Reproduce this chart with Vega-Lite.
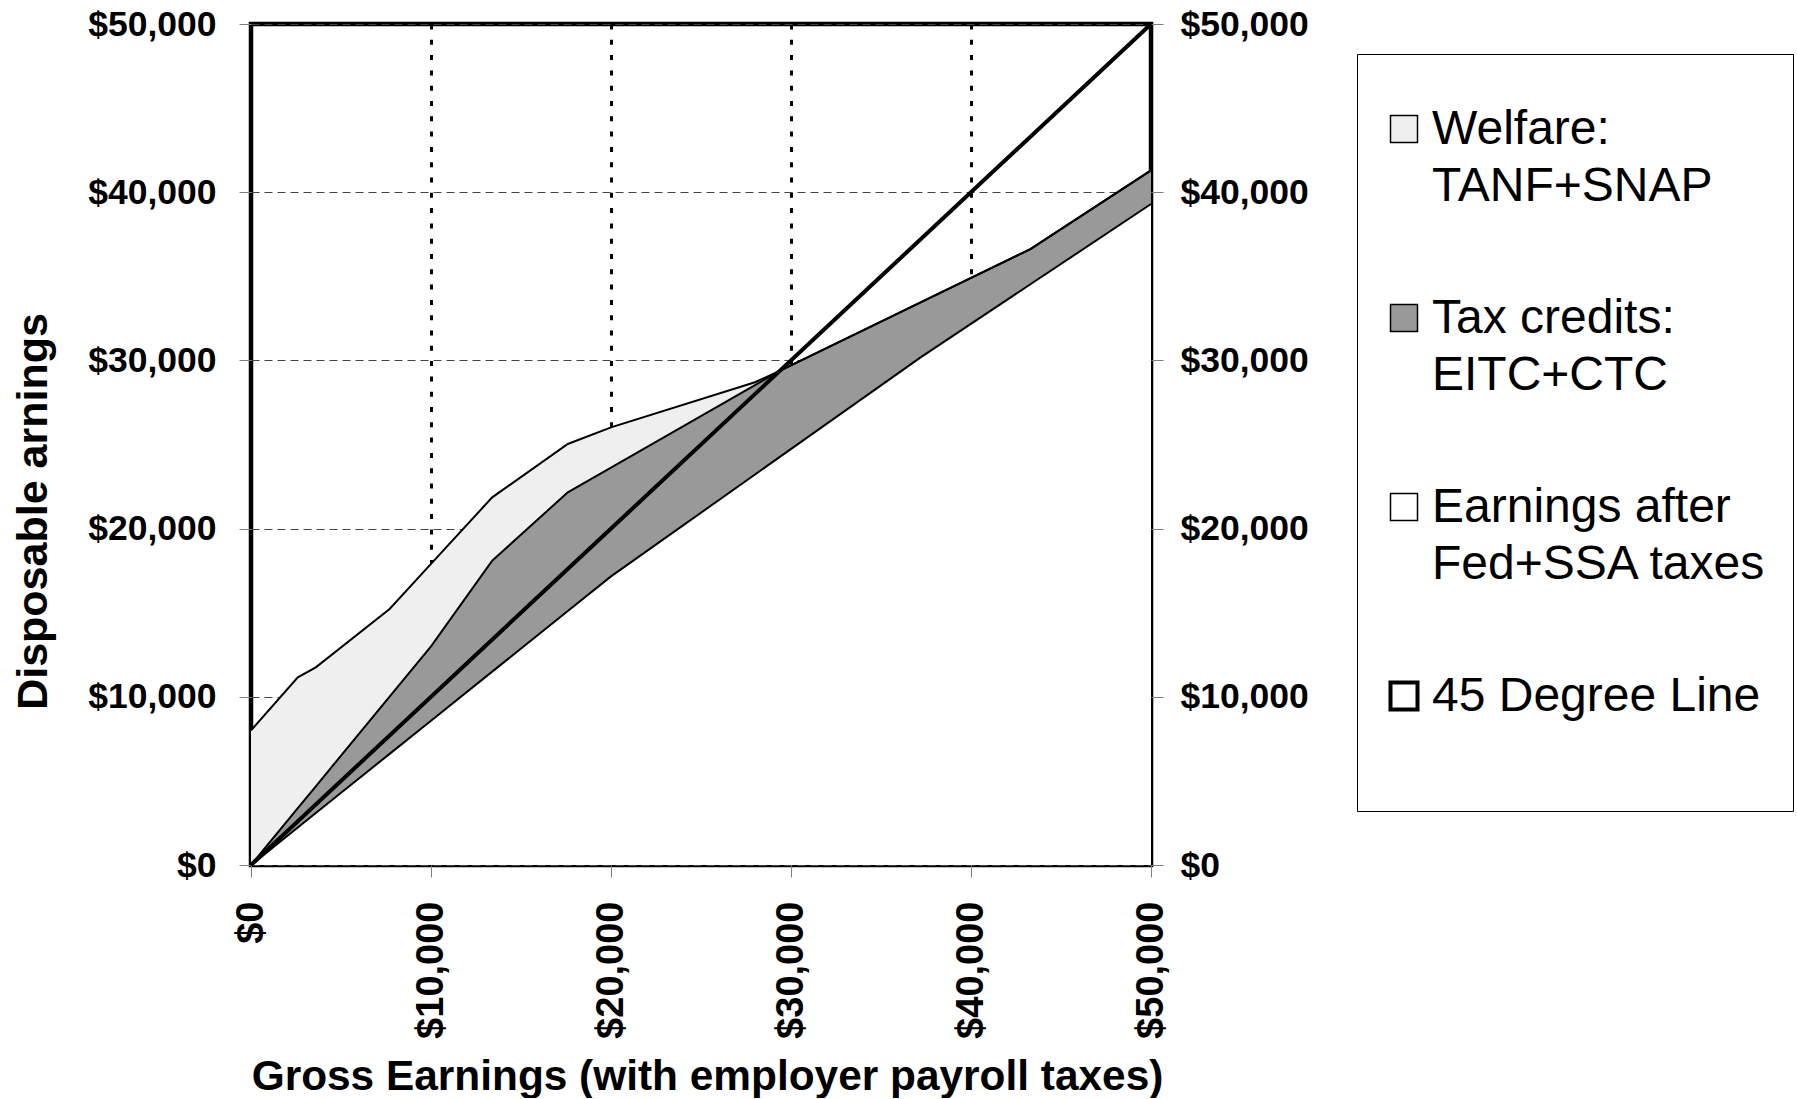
{
  "$schema": "https://vega.github.io/schema/vega-lite/v6.json",
  "width": 900,
  "height": 841,
  "padding": {"left": 12, "top": 7, "right": 5, "bottom": 0},
  "background": "white",
  "config": {
    "font": "Liberation Sans",
    "view": {"stroke": "black", "strokeWidth": 4.5},
    "axis": {
      "labelFont": "Liberation Sans",
      "labelFontWeight": "bold",
      "labelFontSize": 35.5,
      "labelColor": "black",
      "titleFont": "Liberation Sans",
      "titleFontWeight": "bold",
      "titleFontSize": 42.4,
      "titleColor": "black",
      "tickColor": "#808080",
      "tickSize": 12,
      "domain": false
    }
  },
  "datasets": {
    "bands": [
      {"gross": 0, "series": "Earnings after Fed+SSA taxes", "amount": 0},
      {"gross": 0, "series": "Tax credits: EITC+CTC", "amount": 0},
      {"gross": 0, "series": "Welfare: TANF+SNAP", "amount": 8000},
      {"gross": 2600, "series": "Earnings after Fed+SSA taxes", "amount": 2231},
      {"gross": 2600, "series": "Tax credits: EITC+CTC", "amount": 1149},
      {"gross": 2600, "series": "Welfare: TANF+SNAP", "amount": 7780},
      {"gross": 3600, "series": "Earnings after Fed+SSA taxes", "amount": 3089},
      {"gross": 3600, "series": "Tax credits: EITC+CTC", "amount": 1591},
      {"gross": 3600, "series": "Welfare: TANF+SNAP", "amount": 7070},
      {"gross": 7700, "series": "Earnings after Fed+SSA taxes", "amount": 6607},
      {"gross": 7700, "series": "Tax credits: EITC+CTC", "amount": 3403},
      {"gross": 7700, "series": "Welfare: TANF+SNAP", "amount": 5210},
      {"gross": 10000, "series": "Earnings after Fed+SSA taxes", "amount": 8580},
      {"gross": 10000, "series": "Tax credits: EITC+CTC", "amount": 4420},
      {"gross": 10000, "series": "Welfare: TANF+SNAP", "amount": 4900},
      {"gross": 13400, "series": "Earnings after Fed+SSA taxes", "amount": 11497},
      {"gross": 13400, "series": "Tax credits: EITC+CTC", "amount": 6593},
      {"gross": 13400, "series": "Welfare: TANF+SNAP", "amount": 3770},
      {"gross": 17600, "series": "Earnings after Fed+SSA taxes", "amount": 15101},
      {"gross": 17600, "series": "Tax credits: EITC+CTC", "amount": 7059},
      {"gross": 17600, "series": "Welfare: TANF+SNAP", "amount": 2870},
      {"gross": 20000, "series": "Earnings after Fed+SSA taxes", "amount": 17160},
      {"gross": 20000, "series": "Tax credits: EITC+CTC", "amount": 6470},
      {"gross": 20000, "series": "Welfare: TANF+SNAP", "amount": 2390},
      {"gross": 28000, "series": "Earnings after Fed+SSA taxes", "amount": 23216},
      {"gross": 28000, "series": "Tax credits: EITC+CTC", "amount": 5316},
      {"gross": 28000, "series": "Welfare: TANF+SNAP", "amount": 168},
      {"gross": 29400, "series": "Earnings after Fed+SSA taxes", "amount": 24276},
      {"gross": 29400, "series": "Tax credits: EITC+CTC", "amount": 5114},
      {"gross": 29400, "series": "Welfare: TANF+SNAP", "amount": 0},
      {"gross": 37200, "series": "Earnings after Fed+SSA taxes", "amount": 30180},
      {"gross": 37200, "series": "Tax credits: EITC+CTC", "amount": 3266},
      {"gross": 37200, "series": "Welfare: TANF+SNAP", "amount": 0},
      {"gross": 43300, "series": "Earnings after Fed+SSA taxes", "amount": 34526},
      {"gross": 43300, "series": "Tax credits: EITC+CTC", "amount": 2094},
      {"gross": 43300, "series": "Welfare: TANF+SNAP", "amount": 0},
      {"gross": 50000, "series": "Earnings after Fed+SSA taxes", "amount": 39300},
      {"gross": 50000, "series": "Tax credits: EITC+CTC", "amount": 2000},
      {"gross": 50000, "series": "Welfare: TANF+SNAP", "amount": 0}
    ],
    "line45": [
      {"gross": 0, "disposable": 0},
      {"gross": 50000, "disposable": 50000}
    ]
  },
  "layer": [
    {
      "data": {"name": "bands"},
      "mark": {"type": "area", "opacity": 1, "fillOpacity": 1, "stroke": null},
      "encoding": {
        "x": {
          "field": "gross",
          "type": "quantitative",
          "scale": {"domain": [0, 50000], "nice": false},
          "axis": {
            "title": "Gross Earnings (with employer payroll taxes)",
            "values": [0, 10000, 20000, 30000, 40000, 50000],
            "format": "$,.0f",
            "labelAngle": -90,
            "labelFontSize": 38,
            "labelPadding": 24,
            "titlePadding": 18,
            "titleX": 456,
            "grid": true,
            "gridColor": "black",
            "gridWidth": 3,
            "gridDash": [5, 10.3]
          }
        },
        "y": {
          "field": "amount",
          "type": "quantitative",
          "stack": "zero",
          "scale": {"domain": [0, 50000], "nice": false},
          "axis": {
            "orient": "left",
            "title": "Disposable arnings",
            "titleFontSize": 43,
            "titleY": 487,
            "values": [0, 10000, 20000, 30000, 40000, 50000],
            "format": "$,.0f",
            "labelPadding": 23,
            "titlePadding": 32,
            "grid": true,
            "gridColor": "#444444",
            "gridWidth": 1,
            "gridDash": [8, 5]
          }
        },
        "fill": {
          "field": "series",
          "type": "nominal",
          "scale": {
            "domain": ["Welfare: TANF+SNAP", "Tax credits: EITC+CTC", "Earnings after Fed+SSA taxes", "45 Degree Line"],
            "range": ["#efefef", "#999999", "#ffffff", "#ffffff"]
          },
          "legend": {
            "title": " ",
            "titleFontSize": 6,
            "titlePadding": 19,
            "orient": "none",
            "legendX": 1106,
            "legendY": 30,
            "strokeColor": "black",
            "fillColor": "white",
            "padding": 26,
            "symbolType": "square",
            "symbolSize": 729,
            "symbolStrokeColor": "black",
            "symbolStrokeWidth": 1.5,
            "symbolOpacity": 1,
            "symbolOffset": -3,
            "labelFont": "Liberation Sans",
            "labelFontSize": 48,
            "labelColor": "black",
            "labelLimit": 0,
            "labelOffset": 4,
            "labelBaseline": "alphabetic",
            "rowPadding": 83,
            "labelExpr": "datum.label == 'Welfare: TANF+SNAP' ? ['Welfare:', 'TANF+SNAP'] : datum.label == 'Tax credits: EITC+CTC' ? ['Tax credits:', 'EITC+CTC'] : datum.label == 'Earnings after Fed+SSA taxes' ? ['Earnings after', 'Fed+SSA taxes'] : ['45 Degree Line', ' ']",
            "encode": {
              "labels": {"update": {"dy": {"value": 15}, "lineHeight": {"signal": "datum.index === 3 ? 64 : 56.5"}}},
              "symbols": {"update": {"strokeWidth": {"signal": "datum.value === '45 Degree Line' ? 4 : 1.5"}, "stroke": {"value": "black"}, "opacity": {"value": 1}}}
            }
          }
        },
        "order": {"field": "series", "type": "nominal", "sort": "ascending"}
      }
    },
    {
      "data": {"name": "bands"},
      "mark": {"type": "line", "color": "black", "strokeWidth": 2},
      "encoding": {
        "x": {"field": "gross", "type": "quantitative", "scale": {"domain": [0, 50000], "nice": false}},
        "y": {"field": "amount", "type": "quantitative", "stack": "zero", "scale": {"domain": [0, 50000], "nice": false}, "axis": null},
        "detail": {"field": "series", "type": "nominal"},
        "order": {"field": "series", "type": "nominal", "sort": "ascending"}
      }
    },
    {
      "data": {"name": "line45"},
      "mark": {"type": "line", "color": "black", "strokeWidth": 4},
      "encoding": {
        "x": {"field": "gross", "type": "quantitative", "scale": {"domain": [0, 50000], "nice": false}},
        "y": {
          "field": "disposable",
          "type": "quantitative",
          "scale": {"domain": [0, 50000], "nice": false},
          "axis": {
            "orient": "right",
            "title": null,
            "grid": false,
            "values": [0, 10000, 20000, 30000, 40000, 50000],
            "format": "$,.0f",
            "labelPadding": 17
          }
        }
      }
    }
  ],
  "resolve": {"axis": {"y": "independent"}}
}
